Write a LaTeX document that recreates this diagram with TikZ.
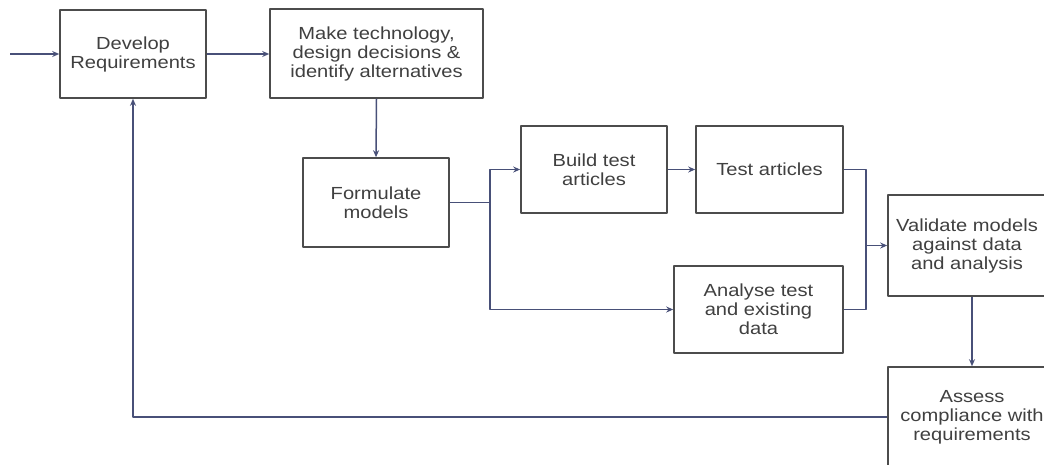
\documentclass[tikz,border=0pt]{standalone}
\usepackage{fontspec}
\setmainfont{Liberation Sans}[FakeStretch=1.15]
\usetikzlibrary{arrows.meta}
\definecolor{flowblue}{RGB}{72,80,120}

\begin{document}
\begin{tikzpicture}[x=1pt, y=-1pt, line join=round,
  stage/.style={draw=black!70, line width=1.6pt, fill=white, align=center,
    inner sep=0pt, text=black!75, font=\fontsize{17.5}{19}\selectfont},
  flow/.style={draw=flowblue, line width=1.5pt},
  flowarrow/.style={flow, -{Stealth[length=7pt, width=6pt]}}]
\useasboundingbox (0,0) rectangle (1044,464);
% stages
\node[stage, minimum width=146pt, minimum height=88pt] (dev) at (133,54) {Develop\\Requirements};
\node[stage, minimum width=213pt, minimum height=89pt] (tech) at (376.5,53.5) {Make technology,\\design decisions \&\\identify alternatives};
\node[stage, minimum width=146pt, minimum height=89pt] (form) at (376,202.5) {Formulate\\models};
\node[stage, minimum width=146pt, minimum height=87pt] (build) at (594,169.5) {Build test\\articles};
\node[stage, minimum width=147pt, minimum height=87pt] (test) at (769.5,169.5) {Test articles};
\node[stage, minimum width=169pt, minimum height=87pt] (anal) at (758.5,309.5) {Analyse test\\and existing\\data};
\node[stage, minimum width=158pt, minimum height=101pt] (valid) at (967,245.5) {Validate models\\against data\\and analysis};
\node[stage, minimum width=168pt, minimum height=100pt] (assess) at (972,417) {Assess\\compliance with\\requirements};
% junctions
\coordinate (start) at (10,54);
\coordinate (split) at (490,202.5);
\coordinate (merge) at (866,245.5);
% connectors
\draw[flowarrow] (start) -- (dev.west);
\draw[flowarrow] (dev.east) -- (dev.east -| tech.west);
\draw[flowarrow] (tech.south) -- (form.north);
\draw[flow] (form.east) -- (split);
\draw[flowarrow] (split) |- (build.west);
\draw[flowarrow] (split) |- (anal.west);
\draw[flowarrow] (build.east) -- (test.west);
\draw[flow] (test.east) -| (merge);
\draw[flow] (anal.east) -| (merge);
\draw[flowarrow] (merge) -- (valid.west);
\draw[flowarrow] (valid.south -| assess.north) -- (assess.north);
\draw[flowarrow] (assess.west) -| (dev.south);
\end{tikzpicture}
\end{document}
